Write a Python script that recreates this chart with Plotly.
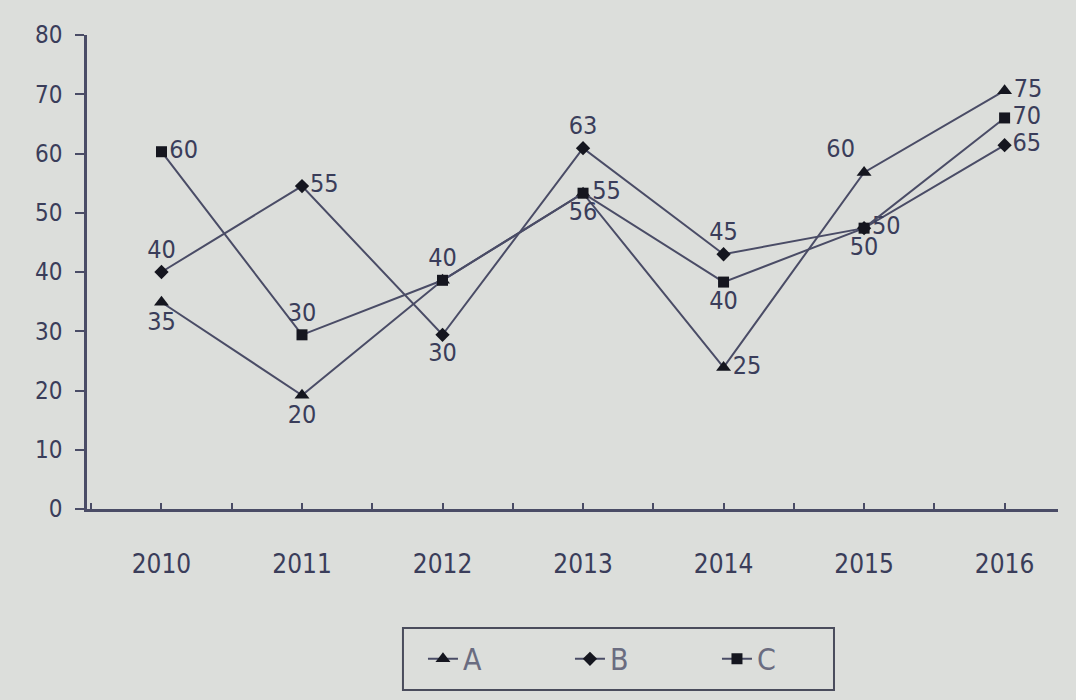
import plotly.graph_objects as go

years = ["2010", "2011", "2012", "2013", "2014", "2015", "2016"]

# plotted positions
a_vals = [34.9, 19.2, 38.6, 53.3, 23.9, 56.8, 70.6]
b_vals = [40.0, 54.5, 29.4, 60.9, 43.0, 47.4, 61.4]
c_vals = [60.3, 29.4, 38.6, 53.3, 38.3, 47.4, 66.0]

# data labels printed on the chart (A's 2012 label is hidden under C's)
a_labels = ["35", "20", "", "55", "25", "60", "75"]
b_labels = ["40", "55", "30", "63", "45", "50", "65"]
c_labels = ["60", "30", "40", "56", "40", "50", "70"]

a_pos = ["bottom center", "bottom center", "top center", "middle right", "middle right", "top left", "middle right"]
b_pos = ["top center", "middle right", "bottom center", "top center", "top center", "middle right", "middle right"]
c_pos = ["middle right", "top center", "top center", "bottom center", "bottom center", "bottom center", "middle right"]

x = list(range(len(years)))

BG = "#dcdedb"
LINE = "#4a4c66"
TEXT = "#3a3d5a"
FONT = "Liberation Sans Narrow, Arial Narrow, DejaVu Sans Condensed, Liberation Sans, sans-serif"

fig = go.Figure()

def add(name, vals, labels, pos, symbol, size):
    fig.add_trace(go.Scatter(
        x=x, y=vals, name=name, mode="lines+markers+text",
        text=labels, textposition=pos,
        textfont=dict(family=FONT, size=25, color=TEXT),
        line=dict(color=LINE, width=2),
        marker=dict(symbol=symbol, size=size, color="#15161f"),
        cliponaxis=False,
    ))

add("A", a_vals, a_labels, a_pos, "triangle-up", 13)
add("B", b_vals, b_labels, b_pos, "diamond", 11)
add("C", c_vals, c_labels, c_pos, "square", 11)

# legend frame
fig.add_shape(type="rect", xref="paper", yref="paper",
              x0=0.3254, x1=0.7693, y0=-0.382, y1=-0.251,
              line=dict(color="#4a4c5c", width=2), fillcolor="rgba(0,0,0,0)")

fig.update_layout(
    width=1076, height=700,
    margin=dict(l=87, r=18, t=35, b=191),
    paper_bgcolor=BG,
    plot_bgcolor=BG,
    font=dict(family=FONT, color=TEXT, size=22),
    legend=dict(
        orientation="h", x=0.346, xanchor="left", y=-0.316, yanchor="middle",
        borderwidth=0, bgcolor="rgba(0,0,0,0)",
        entrywidth=102, entrywidthmode="pixels",
        font=dict(family=FONT, size=30, color="#6a6c80"),
    ),
    xaxis=dict(
        range=[-0.53, 6.38], tickmode="array", tickvals=x, ticktext=years,
        showgrid=False, zeroline=False,
        showline=True, linecolor=LINE, linewidth=2.5,
        ticks="inside", ticklen=6, tickcolor=LINE, tickwidth=1.5,
        minor=dict(ticks="inside", dtick=0.5, tick0=0.5, ticklen=6, tickcolor=LINE, tickwidth=1.5),
        ticklabelstandoff=30,
        tickfont=dict(family=FONT, size=26, color=TEXT),
    ),
    yaxis=dict(
        range=[0, 80], dtick=10, showgrid=False, zeroline=False,
        showline=True, linecolor=LINE, linewidth=2.5,
        ticks="outside", ticklen=9, tickcolor=LINE, tickwidth=2,
        ticklabelstandoff=8,
        tickfont=dict(family=FONT, size=24, color=TEXT),
    ),
)

fig.write_html(
    "out.html",
    config={"displayModeBar": False},
    post_script="document.body.style.margin='0';document.body.style.background='%s';" % BG,
)
